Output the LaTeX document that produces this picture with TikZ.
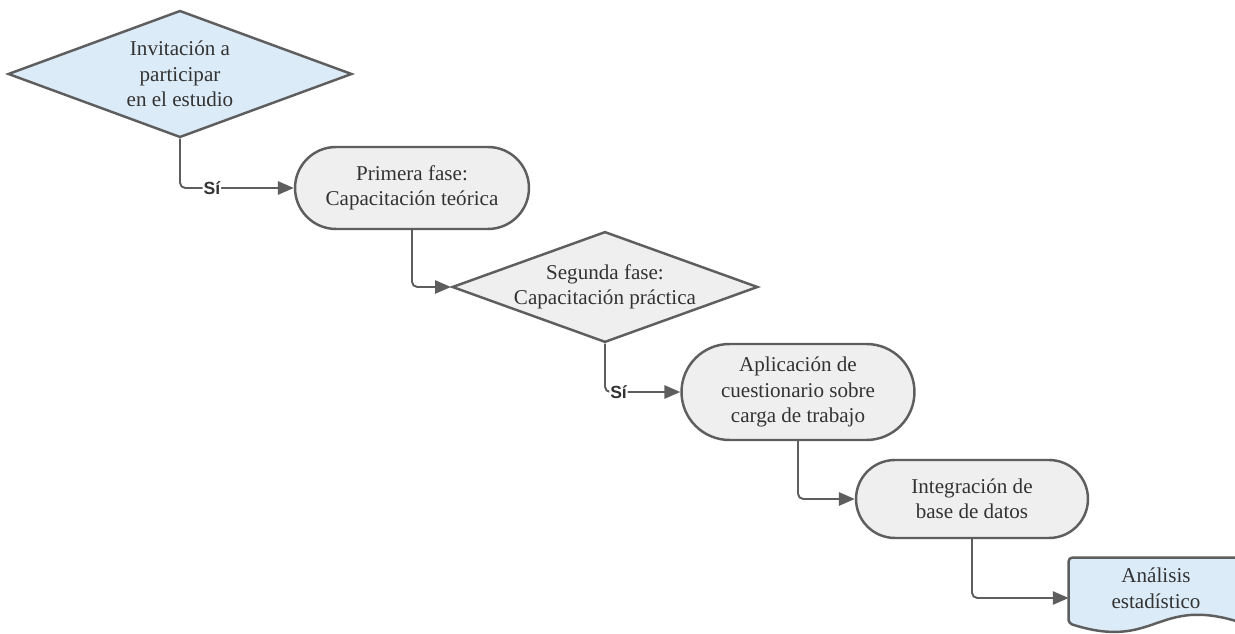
\documentclass[tikz,border=0pt]{standalone}
\usepackage{fontspec}
\setmainfont{Liberation Serif}
\newfontfamily\stepfont{Liberation Serif}
\newfontfamily\sifont{Liberation Sans}
\usepackage{xcolor}
\usepackage{tikz}
\usetikzlibrary{shapes.geometric, shapes.misc, arrows.meta}
\definecolor{bluefill}{HTML}{DCEBF8}
\definecolor{grayfill}{HTML}{EFEFEF}
\definecolor{linegray}{HTML}{5E5E5E}
\definecolor{textgray}{HTML}{333333}

\begin{document}
\begin{tikzpicture}[x=0.02cm, y=-0.02cm,
    every node/.style={font=\stepfont\fontsize{12}{14.5}\selectfont, text=textgray, align=center},
    decision/.style={diamond, draw=linegray, line width=1.4pt, inner sep=0pt},
    phase/.style={rounded rectangle, draw=linegray, line width=1.4pt, fill=grayfill, inner sep=0pt},
    conn/.style={draw=linegray, line width=1.1pt, rounded corners=3pt,
        -{Triangle[length=9pt, width=7.5pt]}},
    si/.style={font=\sifont\bfseries\fontsize{10}{12}\selectfont, fill=white, inner sep=0.5pt}]
   % page frame (1 unit = 1 px of the reference)
   \clip (0,0) rectangle (1235,634);
   \fill[white] (0,0) rectangle (1235,634);

    % Steps
    \node[decision, fill=bluefill, aspect=2.7, minimum width=6.88cm, minimum height=2.54cm]
        (inv) at (180,74) {Invitación a\\participar\\en el estudio};
    \node[phase, minimum width=4.68cm, minimum height=1.64cm]
        (prim) at (412,188) {Primera fase:\\Capacitación teórica};
    \node[decision, fill=grayfill, aspect=2.76, minimum width=6.08cm, minimum height=2.2cm]
        (seg) at (605,287) {Segunda fase:\\Capacitación práctica};
    \node[phase, minimum width=4.66cm, minimum height=1.92cm]
        (aplic) at (798,392) {Aplicación de\\cuestionario sobre\\carga de trabajo};
    \node[phase, minimum width=4.64cm, minimum height=1.56cm]
        (integ) at (972,499) {Integración de\\base de datos};

    % Document shape (cut by the page edge)
    \node[minimum width=3.48cm, minimum height=1.6cm, inner sep=0pt] (ana) at (1156,598) {};
    \draw[linegray, line width=1.4pt, fill=bluefill, rounded corners=2pt]
        ([yshift=0.3cm]ana.south west) -- (ana.north west) -- (ana.north east)
        -- ([yshift=0.3cm]ana.south east)
        .. controls ([yshift=0.86cm]ana.south) and ([yshift=-0.26cm]ana.south) ..
        ([yshift=0.3cm]ana.south west) -- cycle;
    \node (anatext) at ([yshift=5.5pt]ana.center) {Análisis\\estadístico};

    % Connectors
    \draw[conn] (inv.south) |- node[si, pos=0.64]{Sí} (prim.west);
    \draw[conn] (prim.south) |- (seg.west);
    \draw[conn] (seg.south) |- node[si, pos=0.59]{Sí} (aplic.west);
    \draw[conn] (aplic.south) |- (integ.west);
    \draw[conn] (integ.south) |- (ana.west);
\end{tikzpicture}
\end{document}
